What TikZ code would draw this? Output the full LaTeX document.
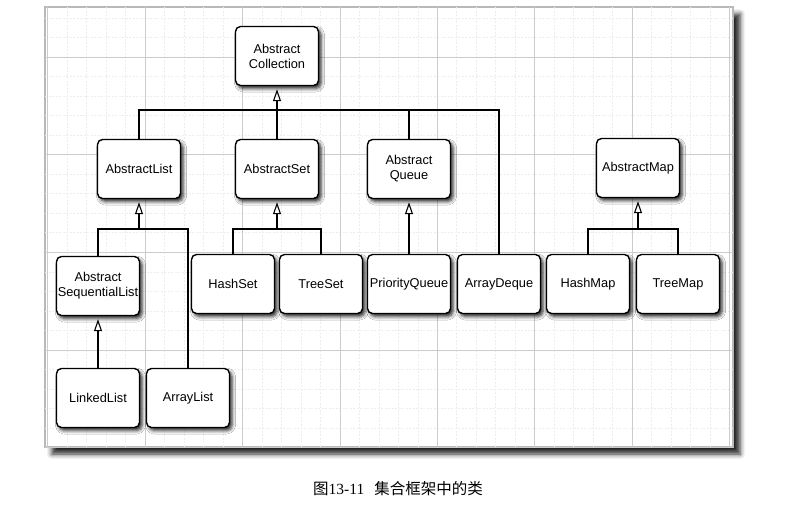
\documentclass[tikz,border=0pt]{standalone}
\usepackage{fontspec}
\setmainfont{Liberation Sans}
\newfontfamily\cjk{Noto Sans CJK SC}
\newfontfamily\capserif{Liberation Serif}
\usetikzlibrary{arrows.meta,shadows.blur}

\begin{document}
\begin{tikzpicture}[x=1pt,y=-1pt,
	cls/.style={draw=black,line width=1.4pt,rounded corners=5pt,fill=white,
		minimum width=83pt,minimum height=59pt,inner sep=1pt,align=center,
		font=\fontsize{12.8}{15}\selectfont,
		blur shadow={shadow xshift=2.5pt,shadow yshift=-3pt,shadow blur radius=3.5pt,shadow opacity=85}},
	inh/.style={-{Triangle[open,length=12pt,width=8pt,line width=1.1pt]},line width=1.2pt,shorten >=3pt},
	link/.style={line width=1.2pt},
	majorline/.style={gray!40,line width=0.6pt},
	minorline/.style={gray!14,line width=0.4pt,dash pattern=on 2pt off 1.5pt}]

	\useasboundingbox (0,0) rectangle (810,515);
	
	\draw[gray!55,line width=1.2pt,fill=white,
		blur shadow={shadow xshift=7pt,shadow yshift=-7pt,shadow blur radius=5pt,shadow opacity=85}]
		(45,7) rectangle (733,447);
	
	\begin{scope}
		\clip (45,7) rectangle (733,447);
		\foreach \i in {0,...,36}
			\draw[minorline] ({47.6+19.48*\i},7) -- ++(0,440);
		\foreach \i in {0,...,24}
			\draw[minorline] (45,{-40.6+19.52*\i}) -- ++(688,0);
		\foreach \i in {0,...,7}
			\draw[majorline] ({47.6+97.4*\i},7) -- ++(0,440);
		\foreach \i in {1,...,5}
			\draw[majorline] (45,{-40.6+97.6*\i}) -- ++(688,0);
	\end{scope}
	
	\node[cls] (coll) at (277,56) {Abstract\\Collection};
	
	\node[cls] (alist) at (139,169) {AbstractList};
	\node[cls] (aset) at (277,169) {AbstractSet};
	\node[cls] (aqueue) at (409,169) {Abstract\\Queue};
	\node[cls] (amap) at (638,168) {AbstractMap};
	
	\node[cls] (aseq) at (98,286) {Abstract\\SequentialList};
	\node[cls] (hset) at (233,284) {HashSet};
	\node[cls] (tset) at (321,284) {TreeSet};
	\node[cls] (pqueue) at (409,284) {PriorityQueue};
	\node[cls] (adeque) at (499,284) {ArrayDeque};
	\node[cls] (hmap) at (588,284) {HashMap};
	\node[cls] (tmap) at (678,284) {TreeMap};
	
	\node[cls] (llist) at (98,398) {LinkedList};
	\node[cls] (arlist) at (188,398) {ArrayList};
	
	\coordinate (top) at (277,110);
	\coordinate (mid) at (277,229);
	
	\draw[link] (alist.north) |- (adeque.north |- top) -- (adeque.north);
	\draw[link] (aqueue.north) -- (aqueue.north |- top);
	\draw[inh] (aset.north) -- (coll.south);
	
	\draw[link] (aseq.north) |- (arlist.north |- mid) -- (arlist.north);
	\draw[inh] (alist.south |- mid) -- (alist.south);
	\draw[link] (hset.north) |- (tset.north |- mid) -- (tset.north);
	\draw[inh] (aset.south |- mid) -- (aset.south);
	\draw[inh] (pqueue.north) -- (aqueue.south);
	\draw[link] (hmap.north) |- (tmap.north |- mid) -- (tmap.north);
	\draw[inh] (amap.south |- mid) -- (amap.south);
	
	\draw[inh] (llist.north) -- (aseq.south);
	
	\node[font=\fontsize{15.5}{18}\selectfont] (cap) at (398,489) {\cjk 图\capserif 13-11\hspace{10pt}\cjk 集合框架中的类};
	
\end{tikzpicture}
\end{document}
